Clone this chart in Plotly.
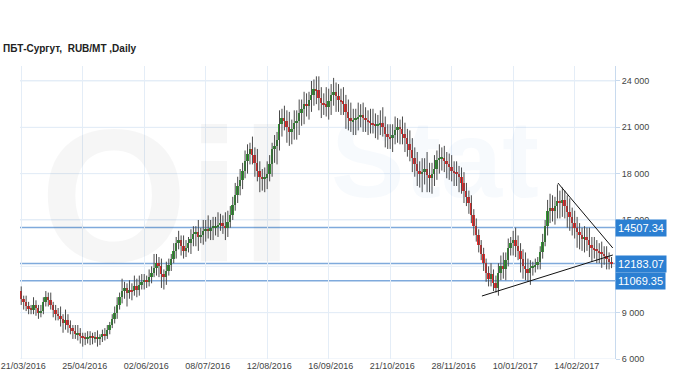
import plotly.graph_objects as go

# ---------------- data ----------------
tick_labels = ["21/03/2016", "25/04/2016", "02/06/2016", "08/07/2016", "12/08/2016",
               "16/09/2016", "21/10/2016", "28/11/2016", "10/01/2017", "14/02/2017"]
tick_index = [0, 25, 50, 75, 100, 125, 150, 175, 200, 225]

first_open = 10400
closes = [
    9900, 9700, 9400, 9300, 9200, 9500, 9300, 9000, 9100, 9700,
    10000, 9800, 9500, 9200, 8900, 8800, 8600, 8300, 8500, 8200,
    8000, 7800, 7600, 7700, 7500, 7400, 7300, 7400, 7500, 7350,
    7450, 7300, 7400, 7600, 7500, 7900, 8200, 8600, 9000, 9500,
    10000, 10400, 10600, 10300, 10500, 10400, 10700, 10500, 10800, 11000,
    11100, 11000, 11300, 11600, 11900, 12200, 12000, 11500, 11300, 11700,
    12100, 12500, 13000, 13500, 13700, 13300, 13000, 13200, 13500, 13800,
    14100, 14200, 13900, 14000, 14300, 14400, 14300, 14500, 14500, 14600,
    14700, 14800, 14600, 14500, 14900, 15300, 16000, 16600, 17200, 17600,
    18200, 18800, 19300, 19600, 19200, 18700, 18200, 17800, 17700, 17700,
    18000, 18600, 19600, 19800, 20200, 21200, 21600, 21400, 21000, 20700,
    20900, 21300, 21400, 21900, 22200, 22500, 22400, 22800, 23100, 23500,
    23400, 22900, 22600, 22500, 22300, 22700, 23100, 23300, 23000, 22800,
    22700, 22500, 22000, 21600, 21400, 21500, 21600, 21700, 21800, 21600,
    21500, 21400, 21300, 21200, 21100, 21200, 21300, 21000, 20600, 20400,
    20300, 20500, 20800, 21000, 20900, 20600, 20300, 19900, 19500, 19000,
    18600, 18200, 18000, 18100, 18300, 17900, 17700, 18000, 18300, 18900,
    19000, 19000, 18800, 18600, 18400, 18200, 18100, 18000, 17800, 17400,
    16900, 16500, 16100, 15300, 14600, 14000, 13400, 12800, 12200, 11600,
    11200, 11500, 10900, 10600, 11600, 12000, 11800, 12400, 13200, 13500,
    13700, 13300, 13000, 12500, 12000, 11800, 11600, 11900, 12000, 12100,
    12300, 12900, 13600, 14600, 15600, 15800, 15600, 15900, 16200, 16100,
    16300, 15900, 15500, 15200, 14800, 14500, 14200, 14000, 13800, 13900,
    13700, 13400, 13200, 13100, 13000, 12900, 12800, 12700, 12500, 12300,
    12183.07,
]

upper_wick = [
    300, 200, 400, 300, 200, 500, 300, 200, 400, 300,
    400, 300, 500, 200, 300, 400, 600, 300, 700, 400,
    300, 200, 400, 500, 300, 200, 300, 400, 300, 200,
    300, 400, 200, 300, 400, 300, 200, 300, 400, 500,
    300, 800, 400, 300, 600, 400, 700, 500, 600, 500,
    400, 300, 500, 400, 900, 600, 400, 500, 300, 600,
    400, 300, 500, 400, 600, 300, 700, 500, 400, 600,
    500, 400, 800, 500, 700, 600, 900, 500, 700, 600,
    800, 600, 500, 900, 700, 600, 500, 800, 600, 700,
    500, 700, 600, 400, 800, 500, 900, 600, 500, 700,
    800, 600, 400, 700, 500, 900, 600, 800, 700, 1000,
    600, 800, 700, 900, 600, 800, 700, 500, 900, 600,
    800, 900, 700, 600, 1100, 800, 700, 900, 600, 800,
    700, 900, 600, 800, 1000, 700, 600, 900, 700, 800,
    700, 600, 800, 900, 700, 600, 800, 1000, 700, 600,
    800, 700, 900, 600, 500, 800, 700, 600, 900, 800,
    700, 800, 600, 900, 700, 1100, 800, 700, 900, 600,
    900, 700, 800, 600, 700, 800, 600, 700, 500, 600,
    700, 500, 400, 500, 400, 500, 400, 300, 400, 300,
    400, 700, 300, 500, 600, 700, 900, 500, 600, 400,
    600, 800, 700, 500, 600, 900, 700, 500, 300, 400,
    300, 400, 500, 400, 700, 900, 800, 600, 1100, 700,
    800, 600, 700, 900, 600, 800, 700, 600, 500, 700,
    600, 800, 500, 700, 600, 500, 700, 500, 600, 400,
    300,
]

lower_wick = [
    400, 500, 300, 400, 300, 300, 500, 400, 300, 200,
    300, 400, 300, 500, 400, 300, 500, 600, 400, 500,
    400, 500, 300, 400, 500, 600, 400, 300, 500, 400,
    300, 500, 400, 300, 300, 200, 300, 200, 300, 400,
    300, 400, 500, 900, 400, 600, 300, 500, 400, 300,
    500, 400, 300, 400, 300, 500, 700, 900, 800, 500,
    300, 400, 300, 500, 400, 600, 500, 400, 300, 700,
    500, 800, 900, 400, 600, 700, 500, 600, 800, 500,
    700, 400, 500, 800, 600, 400, 300, 400, 500, 600,
    600, 500, 800, 700, 600, 900, 700, 1000, 800, 900,
    700, 500, 800, 900, 1200, 700, 800, 600, 1000, 900,
    800, 700, 1100, 900, 800, 1000, 700, 900, 800, 700,
    900, 800, 1000, 700, 600, 800, 900, 700, 1000, 800,
    900, 700, 1100, 800, 700, 900, 1000, 800, 700, 900,
    800, 900, 700, 600, 800, 900, 700, 600, 900, 800,
    700, 900, 600, 800, 1000, 700, 900, 800, 700, 900,
    800, 1000, 900, 1200, 800, 1100, 900, 1000, 800, 700,
    900, 800, 700, 900, 800, 700, 900, 800, 1000, 700,
    800, 600, 700, 500, 600, 400, 500, 400, 500, 600,
    500, 500, 500, 300, 500, 500, 600, 700, 400, 500,
    800, 700, 600, 900, 800, 700, 600, 800, 500, 400,
    300, 500, 400, 300, 600, 800, 700, 900, 800, 1000,
    900, 800, 1000, 900, 800, 700, 1000, 900, 800, 900,
    700, 800, 900, 600, 800, 700, 900, 600, 700, 500,
    300,
]

level_values = [14507.34, 12183.07, 11069.35]
level_labels = ["14507.34", "12183.07", "11069.35"]

trend_down_x = [218.2, 240.5]
trend_down_y = [17395, 13187]
trend_up_x = [187.3, 240.5]
trend_up_y = [10079, 12734]

y_ticks = [6000, 9000, 15000, 18000, 21000, 24000]
y_tick_labels = ["6 000", "9 000", "15 000", "18 000", "21 000", "24 000"]
y_grid = [6000, 9000, 12000, 15000, 18000, 21000, 24000]

# ---------------- derived ----------------
n = len(closes)
idx = list(range(n))
opens = [first_open] + closes[:-1]
highs = [max(o, c) + u for o, c, u in zip(opens, closes, upper_wick)]
lows = [min(o, c) - d for o, c, d in zip(opens, closes, lower_wick)]

wx, wy = [], []
for i in idx:
    wx += [i, i, None]
    wy += [lows[i], highs[i], None]

body_base = [min(o, c) for o, c in zip(opens, closes)]
body_h = [max(abs(c - o), 70) for o, c in zip(opens, closes)]
body_col = ["#2f9a2f" if c >= o else "#f52a2a" for o, c in zip(opens, closes)]

fig = go.Figure()
fig.add_trace(go.Scatter(x=wx, y=wy, mode="lines",
                         line=dict(color="#4a4a4a", width=1),
                         hoverinfo="skip", showlegend=False))
fig.add_trace(go.Bar(x=idx, y=body_h, base=body_base, width=0.8,
                     marker=dict(color=body_col, line=dict(width=0)),
                     showlegend=False))
fig.add_trace(go.Scatter(x=trend_down_x, y=trend_down_y, mode="lines",
                         line=dict(color="#111111", width=1), showlegend=False))
fig.add_trace(go.Scatter(x=trend_up_x, y=trend_up_y, mode="lines",
                         line=dict(color="#111111", width=1), showlegend=False))

shapes = []
for g in y_grid:
    shapes.append(dict(type="line", xref="paper", x0=0, x1=1, yref="y", y0=g, y1=g,
                       line=dict(color="#e4edf7", width=1), layer="below"))
for v in level_values:
    shapes.append(dict(type="line", xref="paper", x0=0, x1=1, yref="y", y0=v, y1=v,
                       line=dict(color="#7faadc", width=1.5), layer="below"))

annotations = []
for v, t in zip(level_values, level_labels):
    annotations.append(dict(x=1, xref="paper", xanchor="left", y=v, yref="y",
                            yanchor="middle", text=t, showarrow=False,
                            bgcolor="#2b7fd2", borderpad=2,
                            font=dict(family="Liberation Sans, Arial", size=11,
                                      color="white")))

# faint watermark
annotations.append(dict(x=0.03, xref="paper", xanchor="left", y=0.93, yref="paper",
                        yanchor="top", text="<b>Oil</b>", showarrow=False,
                        font=dict(family="Liberation Sans, Arial", size=190,
                                  color="rgba(0,0,0,0.035)")))
annotations.append(dict(x=0.52, xref="paper", xanchor="left", y=0.9, yref="paper",
                        yanchor="top", text="<b>Stat</b>", showarrow=False,
                        font=dict(family="Liberation Sans, Arial", size=110,
                                  color="rgba(60,140,210,0.04)")))

fig.update_layout(
    width=680, height=381,
    margin=dict(l=20, r=65, t=66, b=22),
    paper_bgcolor="white", plot_bgcolor="white",
    title=dict(text="<b>ПБТ-Сургут,  RUB/MT ,Daily</b>", x=3 / 680, xanchor="left",
               y=1 - 48 / 381, yanchor="middle",
               font=dict(family="Liberation Sans, Arial", size=10, color="#222")),
    shapes=shapes, annotations=annotations,
    bargap=0, showlegend=False,
    xaxis=dict(range=[-0.5, 241.4], tickvals=tick_index, ticktext=tick_labels,
               showgrid=True, gridcolor="#e4edf7", gridwidth=1, zeroline=False,
               showline=False, ticks="", ticklabeloverflow="allow", automargin=False,
               ticklabelshift=2,
               tickfont=dict(family="Liberation Sans, Arial", size=9, color="#444")),
    yaxis=dict(side="right", range=[6000, 24970], tickvals=y_ticks,
               ticktext=y_tick_labels, showgrid=True, gridcolor="#e4edf7",
               zeroline=False, showline=True, linecolor="#c8daee", automargin=False,
               ticks="outside", ticklen=4, tickcolor="#c8daee",
               tickfont=dict(family="Liberation Sans, Arial", size=9, color="#444")),
)

fig.write_html("out.html")
